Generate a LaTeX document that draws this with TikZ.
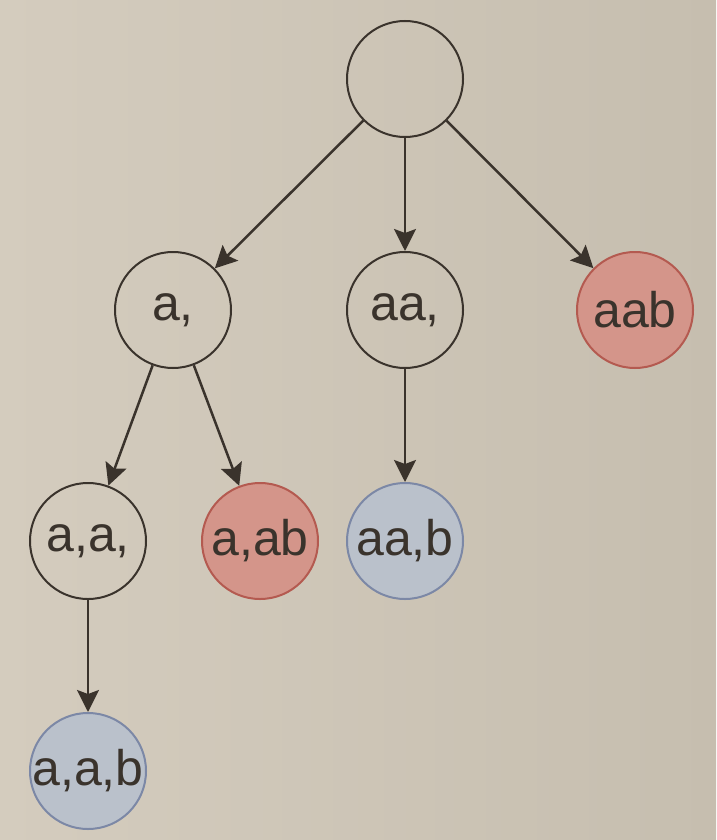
\documentclass[tikz,border=0pt]{standalone}
\usepackage{fontspec}
\setmainfont{Liberation Sans}
\usetikzlibrary{arrows.meta}
\definecolor{bgA}{HTML}{D4CCBE}
\definecolor{bgB}{HTML}{C6BEAF}
\definecolor{ink}{HTML}{3A332C}
\definecolor{redfill}{HTML}{D4958A}
\definecolor{redline}{HTML}{B45A50}
\definecolor{bluefill}{HTML}{BAC1CB}
\definecolor{blueline}{HTML}{7C88A6}
\newcommand{\zbox}[1]{\makebox[0pt][c]{#1}}
\tikzset{
  st/.style={circle, minimum size=116pt, inner sep=0pt, line width=2pt, draw=ink, text=ink,
    font=\fontsize{50}{58}\selectfont},
  plain/.style={st},
  redst/.style={st, draw=redline, fill=redfill},
  bluest/.style={st, draw=blueline, fill=bluefill},
  arr/.style={draw=ink, line width=2.5pt, -{Stealth[length=22pt,width=22pt,inset=4pt]}}
}
\begin{document}
\begin{tikzpicture}[x=1pt,y=-1pt]
\useasboundingbox (0,0) rectangle (716,840);
\shade[left color=bgA, right color=bgB] (0,0) rectangle (716,840);
\node[plain] (root) at (405,79) {};
\node[plain] (a1) at (173,310) {\zbox{a,}};
\node[plain] (a2) at (405,310) {\zbox{aa,}};
\node[redst] (a3) at (635,310) {\zbox{aab}};
\node[plain] (b1) at (88,541) {\zbox{a,a,}};
\node[redst] (b2) at (260,541) {\zbox{a,ab}};
\node[bluest] (b3) at (405,541) {\zbox{aa,b}};
\node[bluest] (c1) at (88,771) {\zbox{a,a,b}};
\draw[arr] (root) -- (a1);
\draw[arr] (root) -- (a2);
\draw[arr] (root) -- (a3);
\draw[arr] (a1) -- (b1);
\draw[arr] (a1) -- (b2);
\draw[arr] (a2) -- (b3);
\draw[arr] (b1) -- (c1);
\end{tikzpicture}
\end{document}
